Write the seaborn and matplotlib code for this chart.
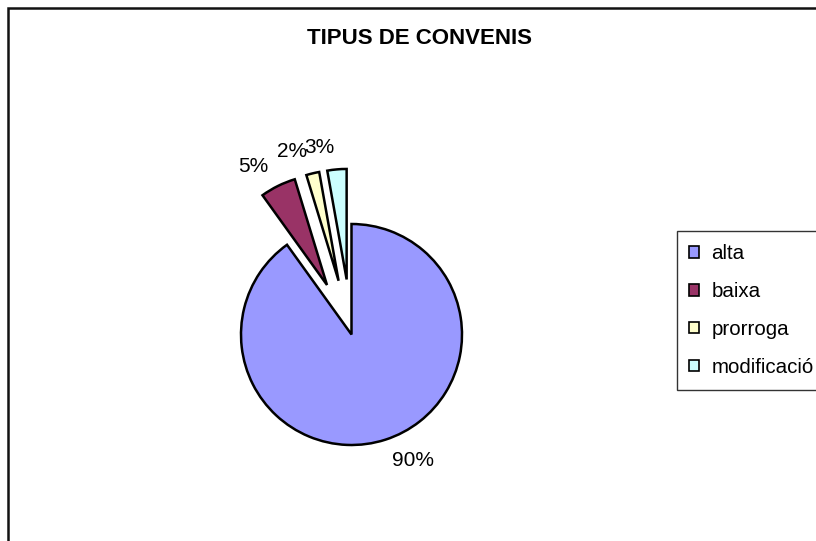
import matplotlib
matplotlib.use("Agg")
import matplotlib.pyplot as plt
from matplotlib.patches import Rectangle
import seaborn as sns

# data
categories = ["alta", "baixa", "prorroga", "modificació"]
values = [89.9, 5.2, 1.9, 2.8]
colors = ["#9999FF", "#993366", "#FFFFCC", "#CCFFFF"]
title = "TIPUS DE CONVENIS"

sns.set_theme(style="white")
plt.rcParams["font.family"] = ["Liberation Sans", "DejaVu Sans"]
plt.rcParams["text.color"] = "black"

total = sum(values)
pct_labels = [f"{v / total * 100:.0f}%" for v in values]

W, H = 816, 541
fig = plt.figure(figsize=(W / 100, H / 100), dpi=100)
fig.patch.set_facecolor("white")

cx, cy, R = 351.5, 334.5, 110.5
ax = fig.add_axes([0, 0, 1, 1])
wedges, texts = ax.pie(
    values,
    labels=pct_labels,
    colors=colors,
    startangle=90,
    counterclock=False,
    explode=[0, 0.5, 0.5, 0.5],
    labeldistance=1.2,
    wedgeprops=dict(edgecolor="black", linewidth=1.8),
    textprops=dict(fontsize=15, color="black"),
)
ax.set_xlim(-cx / R, (W - cx) / R)
ax.set_ylim(-(H - cy) / R, cy / R)
ax.set_aspect("auto")
ax.axis("off")

fig.text(420 / W, 1 - 38.5 / H, title, ha="center", va="center",
         fontsize=16, fontweight="bold", color="black")

# outer chart border (left and top visible)
fig.add_artist(Rectangle((8 / W, -0.1), 1.2, 1.1 - 8 / H, transform=fig.transFigure,
                         fill=False, edgecolor="#111111", linewidth=1.8))

leg = fig.legend(wedges, categories, loc="upper left",
                 bbox_to_anchor=(676.5 / W, 1 - 231.5 / H),
                 frameon=True, fancybox=False, fontsize=14.8,
                 handlelength=0.47, handleheight=0.47, handletextpad=0.6,
                 labelspacing=0.92, borderpad=0.62, borderaxespad=0)
leg.get_frame().set_edgecolor("black")
leg.get_frame().set_linewidth(1.0)
for t in leg.get_texts():
    t.set_color("black")
for h in leg.legend_handles:
    h.set_linewidth(1.2)

fig.savefig("out.png", dpi=100)
